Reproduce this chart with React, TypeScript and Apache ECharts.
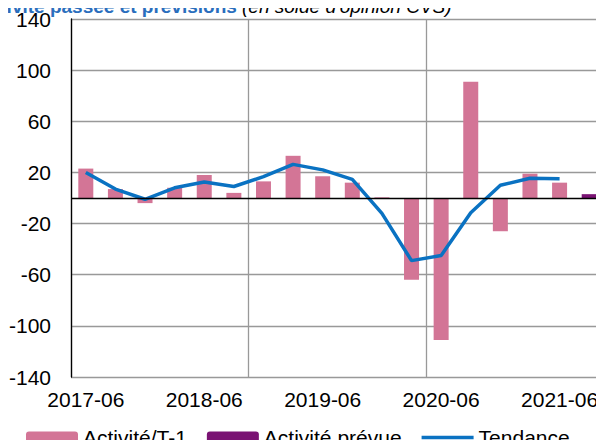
import React, { useEffect, useRef } from "react";
import * as echarts from "echarts";

const categories = [
  "2017-06", "2017-09", "2017-12", "2018-03", "2018-06", "2018-09", "2018-12", "2019-03", "2019-06",
  "2019-09", "2019-12", "2020-03", "2020-06", "2020-09", "2020-12", "2021-03", "2021-06", "2021-09",
];
const activiteT1 = [23, 7, -4, 8, 18, 4, 13, 33, 17, 12, 0.5, -64, -111, 91, -26, 19, 12, null];
const activitePrevue = [null, null, null, null, null, null, null, null, null, null, null, null, null, null, null, null, null, 3];
const tendance = [20, 7, -1, 8, 12.5, 9, 16.7, 26.3, 22, 14.6, -12, -49, -45, -11.5, 10, 15.4, 15.1, null];
const yTicks = { min: -140, max: 140, interval: 40 };

const FONT = "'Liberation Sans', Arial, sans-serif";
const LINE_ICON = "path://M0,4.2H52V7.8H0Z M0,0H0.01V0.01H0Z M52,12H51.99V11.99H52Z";

export default function App() {
  const ref = useRef<HTMLDivElement>(null);
  useEffect(() => {
    const chart = echarts.init(ref.current!, null, { renderer: "svg" });
    chart.setOption({
      animation: false,
      textStyle: { fontFamily: FONT },
      graphic: [
        {
          type: "text",
          left: -24,
          top: -3,
          style: {
            text: "Activité passée et prévisions",
            font: `bold 19px ${FONT}`,
            fill: "#2a6ebd",
          },
        },
        {
          type: "text",
          left: 242,
          top: -3,
          style: {
            text: "(en solde d'opinion CVS)",
            font: `italic 19px ${FONT}`,
            fill: "#000",
          },
        },
      ],
      legend: {
        top: 427,
        left: 26,
        padding: 0,
        itemWidth: 52,
        itemHeight: 12,
        itemGap: 20,
        textStyle: { fontSize: 21, color: "#000", fontFamily: FONT },
        data: [
          "Activité/T-1",
          "Activité prévue",
          { name: "Tendance", icon: LINE_ICON, itemStyle: { color: "#0a72c2" } },
        ],
      },
      grid: { left: 71, right: -1, top: 19, bottom: 71 },
      xAxis: {
        type: "category",
        data: categories,
        axisLine: { show: false, onZero: false },
        axisTick: { show: false },
        axisLabel: {
          interval: 3,
          fontSize: 21,
          color: "#000",
          margin: 12,
          fontFamily: FONT,
        },
        splitLine: {
          show: true,
          interval: (index: number) => index % 6 === 0,
          lineStyle: { color: "#999", width: 1.3 },
        },
      },
      yAxis: {
        type: "value",
        min: yTicks.min,
        max: yTicks.max,
        interval: yTicks.interval,
        axisLine: { show: true, lineStyle: { color: "#000", width: 1.3 } },
        axisTick: { show: false },
        axisLabel: { fontSize: 21, color: "#000", margin: 20, fontFamily: FONT },
        splitLine: { show: true, lineStyle: { color: "#999", width: 1.3 } },
      },
      series: [
        {
          name: "Activité/T-1",
          type: "bar",
          data: activiteT1,
          barWidth: 15,
          barGap: "-100%",
          itemStyle: { color: "#d37596" },
          markLine: {
            silent: true,
            symbol: "none",
            label: { show: false },
            lineStyle: { color: "#000", width: 1.3, type: "solid" },
            data: [{ yAxis: 0 }],
          },
        },
        {
          name: "Activité prévue",
          type: "bar",
          data: activitePrevue,
          barWidth: 15,
          barGap: "-100%",
          itemStyle: { color: "#7a1373" },
        },
        {
          name: "Tendance",
          type: "line",
          data: tendance,
          symbol: "none",
          lineStyle: { color: "#0a72c2", width: 3.5 },
          itemStyle: { color: "#0a72c2" },
        },
      ],
    });
    return () => chart.dispose();
  }, []);
  return <div ref={ref} style={{ width: 604, height: 448, margin: -8 }} />;
}
